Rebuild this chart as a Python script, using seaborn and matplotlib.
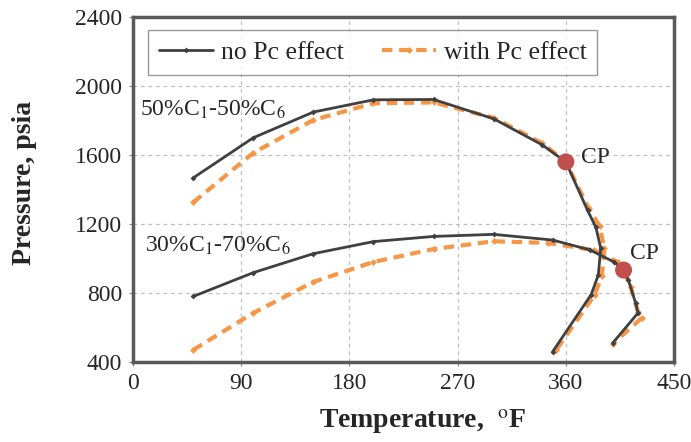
import matplotlib
matplotlib.use("Agg")
import matplotlib.pyplot as plt
import seaborn as sns
import pandas as pd

# 50%C1-50%C6, no Pc effect
t_a_no = [50, 100, 150, 200, 250, 300, 340, 360, 378, 385, 389, 387, 381, 349]
p_a_no = [1467, 1700, 1849, 1920, 1922, 1810, 1660, 1560, 1280, 1180, 1060, 905, 790, 460]
# 50%C1-50%C6, with Pc effect
t_a_pc = [50, 100, 150, 200, 250, 300, 340, 360, 379, 388, 392, 390, 384, 352]
p_a_pc = [1325, 1612, 1803, 1900, 1905, 1815, 1670, 1560, 1290, 1190, 1060, 900, 790, 470]
# 30%C1-70%C6, no Pc effect
t_b_no = [50, 100, 150, 200, 250, 300, 349, 380, 400, 408, 412, 418, 420, 399]
p_b_no = [780, 918, 1028, 1098, 1128, 1140, 1107, 1050, 980, 933, 875, 742, 684, 510]
# 30%C1-70%C6, with Pc effect
t_b_pc = [50, 100, 150, 200, 250, 300, 345, 383, 403, 408, 414, 420, 423, 399]
p_b_pc = [470, 684, 864, 980, 1055, 1100, 1090, 1049, 980, 933, 835, 690, 655, 505]
# critical points
t_cp = [360, 408]
p_cp = [1560, 933]

x_ticks = [0, 90, 180, 270, 360, 450]
y_ticks = [400, 800, 1200, 1600, 2000, 2400]

sns.set_style("white")
plt.rcParams['font.family'] = ['Liberation Serif', 'DejaVu Serif']
plt.rcParams['mathtext.fontset'] = 'stix'

fig = plt.figure(figsize=(6.91, 4.42), dpi=100)
ax = fig.add_axes([0.1925, 0.181, 0.783, 0.7805])

dark = '#404040'
orange = '#F79646'

def df(t, p):
    return pd.DataFrame({'T': t, 'P': p})

sns.lineplot(data=df(t_a_no, p_a_no), x='T', y='P', sort=False, estimator=None,
             color=dark, lw=2, marker='D', markersize=3, markeredgewidth=0,
             label='no Pc effect', ax=ax, zorder=3)
sns.lineplot(data=df(t_a_pc, p_a_pc), x='T', y='P', sort=False, estimator=None,
             color=orange, lw=3, dashes=(2.5, 1.6), marker='D', markersize=3.5,
             markeredgewidth=0, label='with Pc effect', ax=ax, zorder=2)
sns.lineplot(data=df(t_b_no, p_b_no), x='T', y='P', sort=False, estimator=None,
             color=dark, lw=2, marker='D', markersize=3, markeredgewidth=0,
             ax=ax, zorder=3)
sns.lineplot(data=df(t_b_pc, p_b_pc), x='T', y='P', sort=False, estimator=None,
             color=orange, lw=3, dashes=(2.5, 1.6), marker='D', markersize=3.5,
             markeredgewidth=0, ax=ax, zorder=2)
sns.scatterplot(x=t_cp, y=p_cp, color='#C0504D', s=150, edgecolor='none', ax=ax, zorder=5)

ax.text(373, 1585, 'CP', fontsize=17, ha='left', va='center')
ax.text(413, 1030, 'CP', fontsize=17, ha='left', va='center')
ax.text(6, 1860, '50%C$_1$-50%C$_6$', fontsize=17, ha='left', va='center')
ax.text(10, 1075, '30%C$_1$-70%C$_6$', fontsize=17, ha='left', va='center')

ax.set_xlim(0, 450)
ax.set_ylim(400, 2400)
ax.set_xticks(x_ticks)
ax.set_yticks(y_ticks)
ax.tick_params(labelsize=17, length=3, color='#808080', direction='out', pad=5,
               bottom=True, left=True)
ax.grid(True, color='#BFBFBF', ls=(0, (3, 3)), lw=0.9)
for s in ax.spines.values():
    s.set_color('#595959')
    s.set_linewidth(2.5)

ax.set_xlabel('Temperature,  $^{\\mathrm{o}}$F', fontsize=20, fontweight='bold')
ax.set_ylabel('Pressure, psia', fontsize=20, fontweight='bold')
ax.xaxis.set_label_coords(0.535, -0.13)
ax.yaxis.set_label_coords(-0.177, 0.52)

leg = ax.legend(loc='upper left', ncol=2, bbox_to_anchor=(0.028, 0.962),
                fontsize=18.5, frameon=True, fancybox=False,
                edgecolor='#808080', handlelength=2.1, handletextpad=0.3,
                columnspacing=1.5, borderpad=0.42, borderaxespad=0)
leg.get_frame().set_linewidth(1.0)

fig.savefig('out.png', dpi=100)
